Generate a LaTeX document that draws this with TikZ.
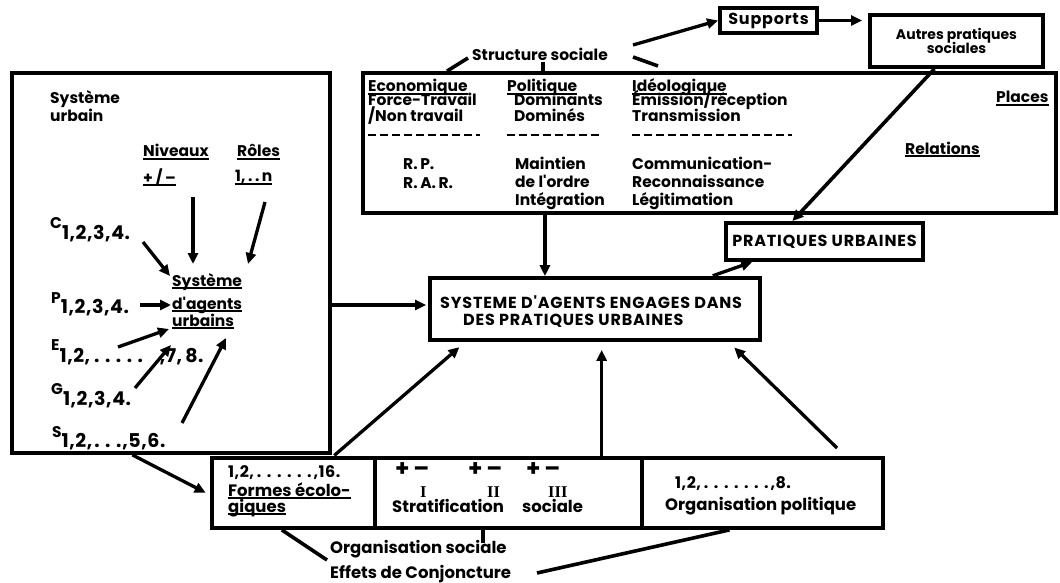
\documentclass[tikz,border=0pt]{standalone}
\usepackage{fontspec}
\setmainfont{Poppins}
\newfontfamily\mainA{Poppins}[LetterSpace=0]
\newfontfamily\capsA{Poppins}[LetterSpace=5]
\newfontfamily\digA{Poppins}[LetterSpace=3]
\newfontfamily\romanfont{Liberation Serif}
\usetikzlibrary{arrows.meta,calc}
\newcommand\ftA{\mainA\bfseries\fontsize{15.5}{17}\selectfont}
\newcommand\ftB{\mainA\bfseries\fontsize{16.5}{19}\selectfont}
\newcommand\ftC{\capsA\bfseries\fontsize{16}{18}\selectfont}
\newcommand\ftD{\digA\bfseries\fontsize{19}{21}\selectfont}
\newcommand\ftF{\digA\bfseries\fontsize{16}{18}\selectfont}
\newcommand\ftE{\mainA\bfseries\fontsize{14}{16}\selectfont}
\newcommand\ftR{\romanfont\bfseries\fontsize{16.5}{18}\selectfont}
\newcommand\ftP{\mainA\bfseries\fontsize{23}{24}\selectfont}
% a run of spaced dots
\newcommand\dt{.\hspace{5.5pt}}
\newsavebox\ulbox
\newcommand\undl[1]{\sbox\ulbox{#1}\rlap{\rule[-3.2pt]{\wd\ulbox}{1.8pt}}\usebox\ulbox}
\begin{document}
\begin{tikzpicture}[x=1pt,y=-1pt,
  box/.style={draw, line width=3.8pt, inner sep=0pt, font=\ftA},
  t/.style={inner sep=0pt, anchor=base west, font=\ftA},
  tb/.style={t, font=\ftB},
  td/.style={t, font=\ftD},
  tf/.style={t, font=\ftF},
  pmsign/.style={t, font=\ftP, text depth=0pt, text height=8pt},
  roman/.style={t, font=\ftR, text height=10pt, text depth=0pt},
  arr/.style={line width=3.3pt, -{Triangle[length=11pt,width=10pt]}},
  ln/.style={line width=3.6pt},
  dashrule/.style={line width=2.4pt, dash pattern=on 8pt off 4pt}]
\useasboundingbox (0,0) rectangle (1060,583);

% ---------- boxes ----------
\node[box, minimum width=318pt, minimum height=380pt] (lbox) at (171,263) {};
\node[box, minimum width=693pt, minimum height=140pt] (top) at (709.5,143) {};
\node[box, minimum width=97pt, minimum height=25pt, font=\ftC] (sup) at (768.5,20.5) {Supports};
\node[box, minimum width=173pt, minimum height=52pt, align=center, font=\ftE] (aut) at (956.5,41) {Autres pratiques\\[-2pt]sociales};
\node[box, minimum width=197pt, minimum height=37pt, font=\ftC] (prat) at (824.5,241.5) {PRATIQUES URBAINES};
\node[box, minimum width=330pt, minimum height=62pt] (sys) at (595,309) {};
\node[box, minimum width=163pt, minimum height=70pt] (form) at (293.5,493) {};
\node[box, minimum width=267pt, minimum height=70pt] (strat) at (508.5,493) {};
\node[box, minimum width=241pt, minimum height=70pt] (orgp) at (762.5,493) {};

% ---------- central box text ----------
\node[t, font=\ftC] (sys1) at (440,308) {SYSTEME D'AGENTS ENGAGES DANS};
\node[t, font=\ftC] (sys2) at (463,325) {DES PRATIQUES URBAINES};

% ---------- structure sociale ----------
\node[t] (ss) at (472,61) {Structure sociale};
\coordinate (ssL) at (468,58);
\coordinate (ssM) at (543,62);
\coordinate (ssR) at (633,57);
\coordinate (ssR2) at (658,66);
\coordinate (ssA) at (633,45);
\draw[ln] (top.north -| 447,0) -- (ssL);
\draw[ln] (ssM) -- (top.north -| ssM);
\draw[ln] (ssR) -- (ssR2);
\draw[arr] (ssA) -- (sup.west);
\draw[arr, shorten >=6pt] (sup.east) -- (aut.west |- sup.east);

% ---------- top box columns ----------
\node[t] (eco) at (368,92) {\undl{Economique}};
\node[t] (eco1) at (368,106) {Force-Travail};
\node[t] (eco2) at (368,122) {/Non travail};
\node[t] (eco3) at (403,169) {R.\,P.};
\node[t] (eco4) at (403,188) {R.\,A.\,R.};
\node[t] (pol) at (507,92) {\undl{Politique}};
\node[t] (pol1) at (514,106) {Dominants};
\node[t] (pol2) at (514,122) {Dominés};
\node[t] (pol3) at (515,169) {Maintien};
\node[t] (pol4) at (515,187) {de l'ordre};
\node[t] (pol5) at (515,205) {Intégration};
\node[t] (ide) at (632,92) {\undl{Idéologique}};
\node[t] (ide1) at (632,106) {Émission/réception};
\node[t] (ide2) at (632,122) {Transmission};
\node[t] (ide3) at (632,169) {Communication-};
\node[t] (ide4) at (632,187) {Reconnaissance};
\node[t] (ide5) at (632,205) {Légitimation};
\node[t] (pla) at (996,103) {\undl{Places}};
\node[t] (rel) at (905,154) {\undl{Relations}};
\draw[dashrule] (368,135) -- (480,135);
\draw[dashrule] (507,135) -- (602,135);
\draw[dashrule] (632,135) -- (792,135);

% ---------- left box ----------
\node[t] (su1) at (50,104) {Système};
\node[t] (su2) at (50,122) {urbain};
\node[t] (niv) at (143,157) {\undl{Niveaux}};
\node[t] (pm) at (143,183) {\undl{+\,/\,–}};
\node[t] (rol) at (237,157) {\undl{Rôles}};
\node[t] (rn) at (235,182) {\undl{1,\,.\,.\,n}};
\node[t] (sau1) at (172,286) {\undl{Système}};
\node[t] (sau2) at (172,309) {\undl{d'agents}};
\node[t] (sau3) at (172,326) {\undl{urbains}};
\node[td] (cC) at (50,239) {\raisebox{11pt}{\ftA C}1,2,3,4.};
\node[td] (pP) at (51,313) {\raisebox{10pt}{\ftA P}1,2,3,4.};
\node[td] (eE) at (51,362) {\raisebox{12pt}{\ftA E}1,2,\hspace{4pt}\dt\dt\dt\dt.\hspace{17pt},7,\,8.};
\node[td] (gG) at (51,405) {\raisebox{11pt}{\ftA G}1,2,3,4.};
\node[td] (sS) at (52,447) {\raisebox{10pt}{\ftA S}1,2,\hspace{2pt}\dt\dt.\hspace{1pt},5,6.};

\coordinate (nivA) at (193,197);  \coordinate (nivB) at (193,264);
\coordinate (rolA) at (265,202);  \coordinate (rolB) at (248,264);
\coordinate (cA) at (143,242);    \coordinate (cB) at (170,276);
\coordinate (pA) at (140,305);    \coordinate (pB) at (171,305);
\coordinate (eA) at (118,347);    \coordinate (eB) at (169,329);
\coordinate (gA) at (135,388);    \coordinate (gB) at (171,345);
\coordinate (sA) at (182,423);    \coordinate (sB) at (226,338);
\draw[arr] (nivA) -- (nivB);
\draw[arr] (rolA) -- (rolB);
\draw[arr] (cA) -- (cB);
\draw[arr] (pA) -- (pB);
\draw[arr] (eA) -- (eB);
\draw[arr] (gA) -- (gB);
\draw[arr] (sA) -- (sB);

% ---------- main connectors ----------
\coordinate (sysT) at ($(sys.north west)!0.35!(sys.north east)$);
\draw[arr] (top.south -| sysT) -- (sysT);
\draw[arr, shorten >=2pt] (lbox.east |- 0,305) -- (sys.west |- 0,305);
\coordinate (sysP) at ($(sys.north west)!0.85!(sys.north east)$);
\coordinate (pratS) at ($(prat.south west)!0.14!(prat.south east)$);
\draw[arr, shorten <=1pt] (sysP) -- (pratS);
\coordinate (autS) at ($(aut.south west)!0.375!(aut.south east)$);
\coordinate (pratN) at ($(prat.north west)!0.34!(prat.north east)$);
\draw[arr, line width=3.6pt] (autS) -- (pratN);

\coordinate (formN) at ($(form.north west)!0.74!(form.north east)$);
\coordinate (sysS1) at ($(sys.south west)!0.112!(sys.south east)$);
\draw[arr, shorten >=8pt, shorten <=1pt] (formN) -- (sysS1);
\coordinate (sysS2) at ($(sys.south west)!0.52!(sys.south east)$);
\draw[arr, shorten >=8pt] (strat.north -| sysS2) -- (sysS2);
\coordinate (orgA) at (837,448);
\coordinate (sysS3) at ($(sys.south west)!0.9!(sys.south east)$);
\draw[arr, shorten >=8pt] (orgA) -- (sysS3);
\coordinate (lboxS) at ($(lbox.south west)!0.38!(lbox.south east)$);
\draw[arr, shorten >=5pt] (lboxS) -- (form.west |- 0,495);

% ---------- bottom row text ----------
\node[tf] (f1) at (228,477) {1,2,\hspace{3pt}\dt\dt\dt\dt\dt.\hspace{2pt},16.};
\node[tb] (f2) at (228,496) {\undl{Formes écolo-}};
\node[tb] (f3) at (228,512) {\undl{giques}};
\node[pmsign] (pm1) at (395,476) {+\,–};
\node[pmsign] (pm2) at (468,476) {+\,–};
\node[pmsign] (pm3) at (526,476) {+\,–};
\node[roman] (r1) at (420,497) {I};
\node[roman] (r2) at (487,497) {II};
\node[roman] (r3) at (548,497) {III};
\node[tb] (st1) at (392,512) {Stratification};
\node[tb] (st2) at (522,512) {sociale};
\node[tf] (op1) at (675,488) {1,2,\hspace{3pt}\dt\dt\dt\dt\dt\dt.\hspace{2pt},8.};
\node[tb] (op2) at (665,510) {Organisation politique};

\node[tb] (os1) at (330,553) {Organisation sociale};
\node[tb] (os2) at (330,578) {Effets de Conjoncture};
\coordinate (formS) at ($(form.south west)!0.43!(form.south east)$);
\coordinate (osL) at (327,560);
\draw[ln] (formS) -- (osL);
\draw[ln] (strat.south -| 483,0) -- (483,543);
\coordinate (orgS) at ($(orgp.south west)!0.365!(orgp.south east)$);
\coordinate (osR) at (537,573);
\draw[ln] (orgS) -- (osR);
\end{tikzpicture}
\end{document}
